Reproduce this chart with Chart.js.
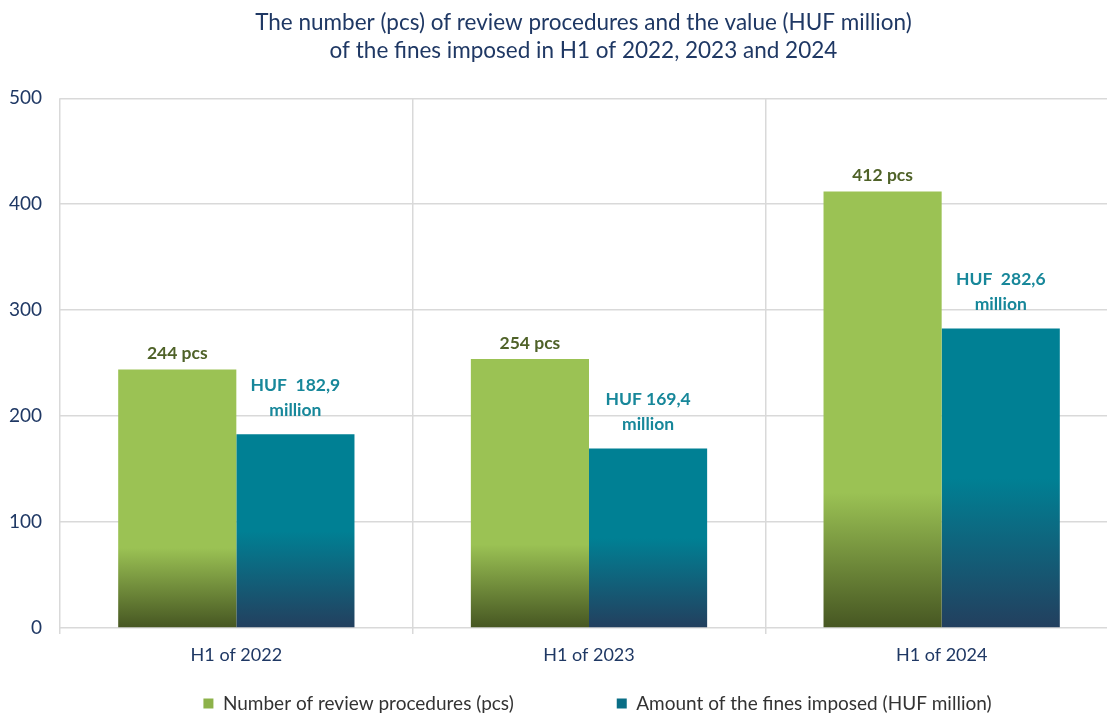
<!DOCTYPE html>
<html>
<head>
<meta charset="utf-8">
<script src="https://cdn.jsdelivr.net/npm/chart.js@4.4.1/dist/chart.umd.min.js"></script>
<style>
  html, body { margin: 0; padding: 0; background: #fff; overflow: hidden; }
  #wrap { width: 1195px; height: 716px; }
</style>
</head>
<body>
<div id="wrap"><canvas id="c" width="1195" height="716"></canvas></div>
<script>
const categories = ['H1 of 2022', 'H1 of 2023', 'H1 of 2024'];
const procedures = [244, 254, 412];
const fines = [182.9, 169.4, 282.6];
const procedureLabels = ['244 pcs', '254 pcs', '412 pcs'];
const fineLabels = ['HUF  182,9', 'HUF 169,4', 'HUF  282,6'];
const yTicks = [0, 100, 200, 300, 400, 500];
const seriesNames = ['Number of review procedures (pcs)', 'Amount of the fines imposed (HUF million)'];
const titleLines = ['The number (pcs) of review procedures and the value (HUF million)', 'of the fines imposed in H1 of 2022, 2023 and 2024'];

const FONT = 'Lato, "Open Sans", sans-serif';
const NAVY = '#1F3864';

function barGradient(ctx, light, dark, frac) {
  const chart = ctx.chart;
  const area = chart.chartArea;
  if (!area || ctx.type !== 'data') return light;
  const y = chart.scales.y;
  const top = y.getPixelForValue(ctx.raw);
  const base = y.getPixelForValue(0);
  const g = chart.ctx.createLinearGradient(0, base, 0, top);
  g.addColorStop(0, dark);
  g.addColorStop(frac, light);
  g.addColorStop(1, light);
  return g;
}

const labelPlugin = {
  id: 'barLabels',
  afterDatasetsDraw(chart) {
    const c = chart.ctx;
    c.save();
    c.textAlign = 'center';
    c.textBaseline = 'middle';
    const m0 = chart.getDatasetMeta(0);
    c.font = 'bold 17.5px ' + FONT;
    c.fillStyle = '#4F6228';
    m0.data.forEach((el, i) => {
      c.fillText(procedureLabels[i], el.x, el.y - 16);
    });
    const m1 = chart.getDatasetMeta(1);
    c.fillStyle = '#17879A';
    m1.data.forEach((el, i) => {
      c.fillText(fineLabels[i], el.x, el.y - 49);
      c.fillText('million', el.x, el.y - 24);
    });
    c.restore();
  }
};

const SP = '\u2003';
const EN = '\u2002';

new Chart(document.getElementById('c'), {
  type: 'bar',
  data: {
    labels: categories,
    datasets: [
      {
        label: seriesNames[0],
        data: procedures,
        backgroundColor: (ctx) => barGradient(ctx, '#9BC254', '#465622', 0.31),
        borderWidth: 0
      },
      {
        label: seriesNames[1],
        data: fines,
        backgroundColor: (ctx) => barGradient(ctx, '#008094', '#233F5E', 0.5),
        borderWidth: 0
      }
    ]
  },
  plugins: [labelPlugin],
  options: {
    responsive: false,
    animation: false,
    layout: { padding: { left: 0, right: 0, top: 0, bottom: -7 } },
    datasets: { bar: { categoryPercentage: 0.67, barPercentage: 1.0 } },
    plugins: {
      tooltip: { enabled: false },
      title: {
        display: true,
        text: titleLines.map(t => t + SP + EN),
        color: NAVY,
        font: { family: FONT, size: 22.5, weight: 'normal', lineHeight: 1.25 },
        padding: { top: 9, bottom: 33 }
      },
      legend: {
        position: 'bottom',
        labels: {
          color: '#333333',
          font: { family: FONT, size: 19 },
          boxWidth: 10,
          boxHeight: 10,
          padding: 8,
          generateLabels(chart) {
            const cols = ['#8DB24A', '#0A6E86'];
            return chart.data.datasets.map((ds, i) => ({
              text: ds.label + (i === 0 ? SP + SP + SP + SP + SP + SP + EN : ''),
              fillStyle: cols[i],
              strokeStyle: cols[i],
              lineWidth: 0,
              datasetIndex: i,
              hidden: false,
              fontColor: '#333333'
            }));
          }
        }
      }
    },
    scales: {
      x: {
        offset: true,
        afterFit(scale) { scale.height = 58; },
        grid: { display: true, offset: true, color: '#D9D9D9', lineWidth: 1.5, tickLength: 6, drawTicks: true },
        border: { display: false },
        ticks: { color: NAVY, font: { family: FONT, size: 18 }, padding: 10 }
      },
      y: {
        min: 0,
        max: 500,
        afterBuildTicks(scale) { scale.ticks = yTicks.map(v => ({ value: v })); },
        afterFit(scale) { scale.width = 60; },
        grid: { color: '#D9D9D9', lineWidth: 1.5, drawTicks: false },
        border: { display: false },
        ticks: { color: NAVY, font: { family: FONT, size: 19 }, padding: 18 }
      },
      yRight: {
        position: 'right',
        min: 0,
        max: 500,
        afterFit(scale) { scale.width = 77; },
        grid: { display: false },
        border: { display: false },
        ticks: { display: false }
      }
    }
  }
});
</script>
</body>
</html>
